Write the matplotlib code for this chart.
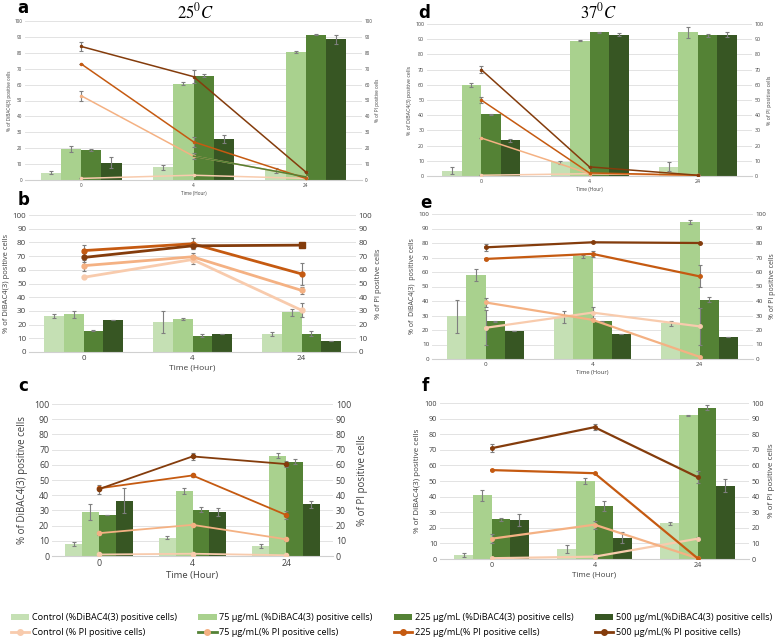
import matplotlib
matplotlib.use("Agg")
import matplotlib.pyplot as plt
from matplotlib.lines import Line2D
from matplotlib.patches import Patch
from matplotlib import font_manager
import numpy as np

plt.rcParams['font.family'] = ['DejaVu Sans']
plt.rcParams['mathtext.fontset'] = 'stix'

times = ['0', '4', '24']
dibac_names = ['Control (%DiBAC4(3) positive cells)', '75 µg/mL (%DiBAC4(3) positive cells)',
               '225 µg/mL (%DiBAC4(3) positive cells)', '500 µg/mL(%DiBAC4(3) positive cells)']
pi_names = ['Control (% PI positive cells)', '75 µg/mL(% PI positive cells)',
            '225 µg/mL(% PI positive cells)', '500 µg/mL(% PI positive cells)']

# rows: Control, 75, 225, 500 ; columns: 0h, 4h, 24h
a_dibac = [[4.5, 8, 6], [19.5, 60.5, 80.5], [19, 65.5, 91.5], [11, 26, 88.5]]
a_dibac_err = [[1, 1.5, 1.5], [2, 1, 0.5], [0.5, 1, 0.5], [3.5, 2.5, 3]]
a_pi = [[1, 3, 1], [53, 15, 2], [73, 24, 1], [84, 65, 5]]
a_pi_err = [[0, 0, 0], [3, 2, 0], [0, 3, 0], [3, 4, 0]]

d_dibac = [[3.5, 9, 6], [60, 89, 94.5], [40.5, 94.5, 92.5], [23.5, 93, 93]]
d_dibac_err = [[2.5, 1, 3], [1.5, 0.5, 3.5], [0.3, 0.3, 1], [1, 0.8, 1.5]]
d_pi = [[0.5, 1.5, 0.5], [25, 1.5, 0.5], [50, 2, 0.5], [70, 6, 0.5]]
d_pi_err = [[0, 0, 0], [0, 0, 0], [2, 0, 0], [2.5, 0, 0]]

b_dibac = [[26, 22, 13], [27.5, 24, 29], [15.5, 12, 13.5], [23.5, 13.5, 8]]
b_dibac_err = [[1.5, 8, 1.5], [2.5, 0.5, 2.5], [0.5, 1, 2], [0, 0, 0]]
b_pi = [[54.5, 67.5, 30.5], [63, 69.5, 45], [74, 79, 57], [69, 77.5, 78]]
b_pi_err = [[0, 3, 5], [4, 3, 2.5], [4, 4, 8], [3, 2, 0]]

e_dibac = [[29.5, 29, 24.5], [58, 71, 94.5], [26, 26, 41], [19.5, 17, 15]]
e_dibac_err = [[11.5, 4, 1.5], [4, 1, 1.5], [0.3, 0.5, 2], [0, 0, 0]]
e_pi = [[21.5, 32, 22.5], [39, 27, 1.5], [69, 72.5, 57], [77, 80.5, 80]]
e_pi_err = [[12, 4, 12.5], [3, 0, 0], [1, 2, 7.5], [2.5, 0, 0]]

c_dibac = [[8, 12, 6.5], [29, 43, 66], [27, 30.5, 62], [36.5, 29, 34]]
c_dibac_err = [[1.5, 1, 1.5], [5.5, 2, 1.5], [0.3, 1.5, 1.5], [8, 2.5, 2.5]]
c_pi = [[1, 1.5, 0.5], [15, 20.5, 11], [44.5, 53, 27], [44, 65.5, 60.5]]
c_pi_err = [[0, 0, 0], [1, 0, 1], [0, 1, 2.5], [3, 2.5, 2]]

f_dibac = [[2.5, 6.5, 23], [41, 50, 92], [25.5, 34, 97], [25, 13.5, 47]]
f_dibac_err = [[1.5, 2.5, 1], [3.5, 2, 0.3], [1, 3.5, 1.5], [4, 3.5, 4]]
f_pi = [[0.5, 1.5, 13], [13, 22, 0.5], [57, 55, 0.5], [71, 84.5, 52.5]]
f_pi_err = [[0, 2, 1], [3, 2.5, 0], [0, 0, 0], [2.5, 2, 4]]

bar_colors = ['#c5e0b4', '#a9d18e', '#548235', '#375623']
line_colors = ['#f8cbad', '#f4b183', '#c55a11', '#843c0c']
err_color = '#7f7f7f'

installed = {f.name for f in font_manager.fontManager.ttflist}
narrow = 'Liberation Sans Narrow' if 'Liberation Sans Narrow' in installed else 'Open Sans'
txt_fam = [narrow, 'DejaVu Sans']
tick_fam = ['Open Sans', 'DejaVu Sans']

W, H = 783, 642
fig = plt.figure(figsize=(W / 100, H / 100), dpi=100)


def make_axes(x0, x1, ytop, ybot):
    return fig.add_axes([x0 / W, 1 - ybot / H, (x1 - x0) / W, (ybot - ytop) / H])


def draw_panel(box, dibac, dibac_err, pi, pi_err, fs_tick, fs_lab, fs_x, lw, ms,
               ylab_left, ylab_right='% of PI positive cells', lpad=2, rpad=2, green_seg=False,
               square_last=False):
    ax = make_axes(*box)
    x = np.arange(len(times)) + 0.5
    bw = 0.18
    for i in range(4):
        xs = x + (i - 1.5) * bw
        ax.bar(xs, dibac[i], width=bw, color=bar_colors[i], zorder=2)
        ax.errorbar(xs, dibac[i], yerr=dibac_err[i], fmt='none', ecolor=err_color,
                    elinewidth=0.8, capsize=1.5, capthick=0.8, zorder=3)
    ax.set_xlim(0, 3)
    ax.set_ylim(0, 100)
    ax.set_yticks(range(0, 101, 10))
    ax.set_xticks(x)
    ax.set_xticklabels(times)
    ax.grid(axis='y', color='#e3e3e3', lw=0.7, zorder=0)
    ax.set_axisbelow(True)
    for s in ['top', 'right', 'left']:
        ax.spines[s].set_visible(False)
    ax.spines['bottom'].set_color('#d0d0d0')
    ax.tick_params(length=0, labelsize=fs_tick, colors='#404040', pad=2)
    for t in ax.get_xticklabels() + ax.get_yticklabels():
        t.set_family(tick_fam)
    ax.set_ylabel(ylab_left, fontsize=fs_lab, color='#404040', labelpad=lpad, family=tick_fam)
    ax.set_xlabel('Time (Hour)', fontsize=fs_x, color='#404040', labelpad=2, family=tick_fam)
    ax2 = ax.twinx()
    ax2.set_ylim(0, 100)
    ax2.set_yticks(range(0, 101, 10))
    for s in ['top', 'right', 'left', 'bottom']:
        ax2.spines[s].set_visible(False)
    ax2.tick_params(length=0, labelsize=fs_tick, colors='#404040', pad=2)
    for t in ax2.get_yticklabels():
        t.set_family(tick_fam)
    ax2.set_ylabel(ylab_right, fontsize=fs_lab, color='#404040', labelpad=rpad, family=tick_fam)
    for i in range(4):
        ax2.errorbar(x, pi[i], yerr=pi_err[i], fmt='none', ecolor=err_color,
                     elinewidth=0.8, capsize=1.5, capthick=0.8, zorder=3)
        ax2.plot(x, pi[i], color=line_colors[i], lw=lw, marker='o', ms=ms, zorder=4)
    if green_seg:
        ax2.plot(x[1:], pi[1][1:], color='#548235', lw=lw, zorder=4)
    if square_last:
        ax2.plot(x[-1:], pi[3][-1:], color=line_colors[3], marker='s', ms=ms + 1, lw=0, zorder=5)
    ax2.set_xlim(0, 3)
    return ax


ylab = '% of DiBAC4(3) positive cells'
draw_panel((25, 362, 21, 180), a_dibac, a_dibac_err, a_pi, a_pi_err, 3.3, 3.3, 3.3, 1.1, 1.5,
           ylab, green_seg=True)
draw_panel((427, 752, 24, 176), d_dibac, d_dibac_err, d_pi, d_pi_err, 3.8, 3.8, 3.5, 1.1, 1.5, ylab)
draw_panel((29, 356, 215, 352), b_dibac, b_dibac_err, b_pi, b_pi_err, 5.8, 5.5, 6, 2.0, 3.5,
           '% of DiBAC4(3) positive cells', square_last=True)
draw_panel((432, 753, 214, 359), e_dibac, e_dibac_err, e_pi, e_pi_err, 4.5, 5, 4.2, 1.6, 2.5,
           '% of  DiBAC4(3)  positive cells')
draw_panel((52, 333, 404, 556), c_dibac, c_dibac_err, c_pi, c_pi_err, 6.3, 7, 6.8, 1.3, 3,
           ylab, lpad=4, rpad=4)
draw_panel((440, 749, 403, 559), f_dibac, f_dibac_err, f_pi, f_pi_err, 5.2, 5.8, 5.8, 1.6, 2.5,
           ylab, lpad=3, rpad=3)

# panel letters
for lab, px, py in [('a', 17, 8), ('d', 418, 13), ('b', 18, 200), ('e', 420, 203),
                    ('c', 18, 386), ('f', 422, 386)]:
    fig.text(px / W, 1 - py / H, lab, fontsize=12, fontweight='bold', va='center', ha='left')

fig.text(195 / W, 1 - 12 / H, r'$25^0C$', fontsize=12, ha='center', va='center')
fig.text(598 / W, 1 - 12 / H, r'$37^0C$', fontsize=12, ha='center', va='center')

# legend
handles = []
labels = []
for i in range(4):
    handles.append(Patch(facecolor=bar_colors[i], edgecolor='none'))
    labels.append(dibac_names[i])
    if i == 1:
        h = Line2D([], [], color='#548235', lw=2, marker='o', ms=4,
                   markerfacecolor=line_colors[1], markeredgecolor=line_colors[1])
    else:
        h = Line2D([], [], color=line_colors[i], lw=2, marker='o', ms=4)
    handles.append(h)
    labels.append(pi_names[i])
fig.legend(handles, labels, ncol=4, loc='center', bbox_to_anchor=(0.5, 1 - 625 / H),
           frameon=False, prop={'family': txt_fam, 'size': 6.6}, handlelength=2.0,
           handleheight=0.6, columnspacing=2.3, handletextpad=0.3, labelspacing=0.6)

fig.savefig('out.png', dpi=100)
